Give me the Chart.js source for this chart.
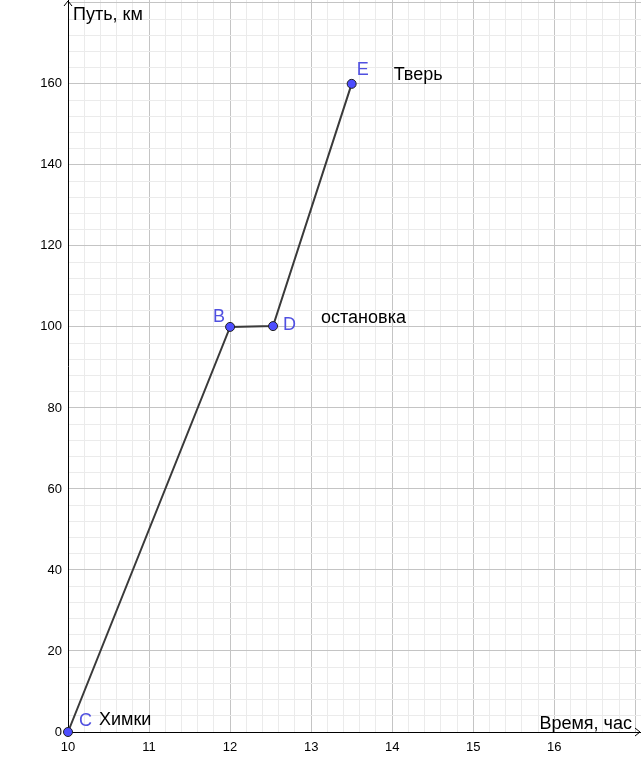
<!DOCTYPE html>
<html>
<head>
<meta charset="utf-8">
<script src="https://cdn.jsdelivr.net/npm/chart.js@4"></script>
<style>
  body { margin: 0; background: #fff; }
  canvas { display: block; }
</style>
</head>
<body>
<canvas id="pathChart" width="641" height="773"></canvas>
<script>
// trip: time (hours) vs distance (km)
const pointNames = ['C', 'B', 'D', 'E'];
const timeValues = [10, 12, 12.53, 13.5];
const distanceValues = [0, 100, 100.2, 160];
const placeNames = ['Химки', '', 'остановка', 'Тверь'];

const xTickLabels = [10, 11, 12, 13, 14, 15, 16];
const yTickLabels = [0, 20, 40, 60, 80, 100, 120, 140, 160];
const xAxisTitle = 'Время, час';
const yAxisTitle = 'Путь, км';

const FONT = '"Liberation Sans", Arial, sans-serif';
const MAJOR = '#c4c4c4';
const MINOR = '#ebebeb';

// label offsets from each point (px): [dx, dy] for the blue name, then the place text
const nameOffsets = [[11, -6], [-17, -5], [10, 4], [5, -9]];
const placeOffsets = [[31, -7], [0, 0], [48, -3], [42, -4]];

const points = timeValues.map((t, i) => ({ x: t, y: distanceValues[i] }));

const labelsPlugin = {
  id: 'pointLabels',
  afterDatasetsDraw(chart) {
    const ctx = chart.ctx;
    const meta = chart.getDatasetMeta(0);
    ctx.save();
    ctx.font = '18px ' + FONT;
    ctx.textBaseline = 'alphabetic';
    ctx.textAlign = 'left';
    meta.data.forEach((el, i) => {
      ctx.fillStyle = '#5050e0';
      ctx.fillText(pointNames[i], el.x + nameOffsets[i][0], el.y + nameOffsets[i][1]);
      if (placeNames[i]) {
        ctx.fillStyle = '#000';
        ctx.fillText(placeNames[i], el.x + placeOffsets[i][0], el.y + placeOffsets[i][1]);
      }
    });
    ctx.restore();
  }
};

const axesPlugin = {
  id: 'axisExtras',
  afterDraw(chart) {
    const ctx = chart.ctx;
    const area = chart.chartArea;
    const x0 = chart.scales.x.getPixelForValue(chart.scales.x.min);
    const y0 = chart.scales.y.getPixelForValue(0);
    ctx.save();
    ctx.strokeStyle = '#000';
    ctx.lineWidth = 1;
    // arrow on y axis
    ctx.beginPath();
    ctx.moveTo(x0 - 4, area.top + 6);
    ctx.lineTo(x0, area.top + 1);
    ctx.lineTo(x0 + 4, area.top + 6);
    ctx.stroke();
    // arrow on x axis
    ctx.beginPath();
    ctx.moveTo(area.right - 6, y0 - 4);
    ctx.lineTo(area.right - 1, y0);
    ctx.lineTo(area.right - 6, y0 + 4);
    ctx.stroke();
    // axis titles
    ctx.fillStyle = '#000';
    ctx.font = '18px ' + FONT;
    ctx.textAlign = 'left';
    ctx.textBaseline = 'alphabetic';
    ctx.fillText(yAxisTitle, x0 + 5, area.top + 20);
    ctx.textAlign = 'right';
    ctx.fillText(xAxisTitle, area.right - 9, y0 - 3);
    ctx.restore();
  }
};

new Chart(document.getElementById('pathChart'), {
  type: 'scatter',
  data: {
    datasets: [{
      data: points,
      showLine: true,
      borderColor: '#3a3a3a',
      borderWidth: 2,
      pointRadius: 4.5,
      pointBackgroundColor: '#4d4dff',
      pointBorderColor: '#202020',
      pointBorderWidth: 1,
      clip: false
    }]
  },
  options: {
    responsive: false,
    animation: false,
    layout: { padding: 0, autoPadding: false },
    plugins: {
      legend: { display: false },
      tooltip: { enabled: false }
    },
    scales: {
      x: {
        type: 'linear',
        min: 10,
        max: 17.07,
        afterBuildTicks(scale) {
          const t = [];
          for (let k = 50; k <= 85; k++) t.push({ value: k / 5 });
          scale.ticks = t;
        },
        afterFit(scale) {
          scale.height = 41;
          scale.paddingLeft = 0;
          scale.paddingRight = 0;
        },
        grid: {
          drawTicks: false,
          color: (c) => (c.tick && Number.isInteger(c.tick.value)) ? MAJOR : MINOR
        },
        border: { color: '#000', width: 1 },
        ticks: {
          autoSkip: false,
          maxRotation: 0,
          padding: 8,
          color: '#000',
          font: { family: FONT, size: 13 },
          callback: (v) => xTickLabels.includes(v) ? String(v) : ''
        }
      },
      y: {
        type: 'linear',
        min: 0,
        max: 180.7,
        afterBuildTicks(scale) {
          const t = [];
          for (let k = 0; k <= 45; k++) t.push({ value: k * 4 });
          scale.ticks = t;
        },
        afterFit(scale) {
          scale.width = 68;
          scale.paddingTop = 0;
          scale.paddingBottom = 0;
        },
        grid: {
          drawTicks: false,
          color: (c) => (c.tick && c.tick.value % 20 === 0) ? MAJOR : MINOR
        },
        border: { color: '#000', width: 1 },
        ticks: {
          autoSkip: false,
          padding: 6,
          color: '#000',
          font: { family: FONT, size: 13 },
          callback: (v) => yTickLabels.includes(v) ? String(v) : ''
        }
      }
    }
  },
  plugins: [labelsPlugin, axesPlugin]
});
</script>
</body>
</html>
